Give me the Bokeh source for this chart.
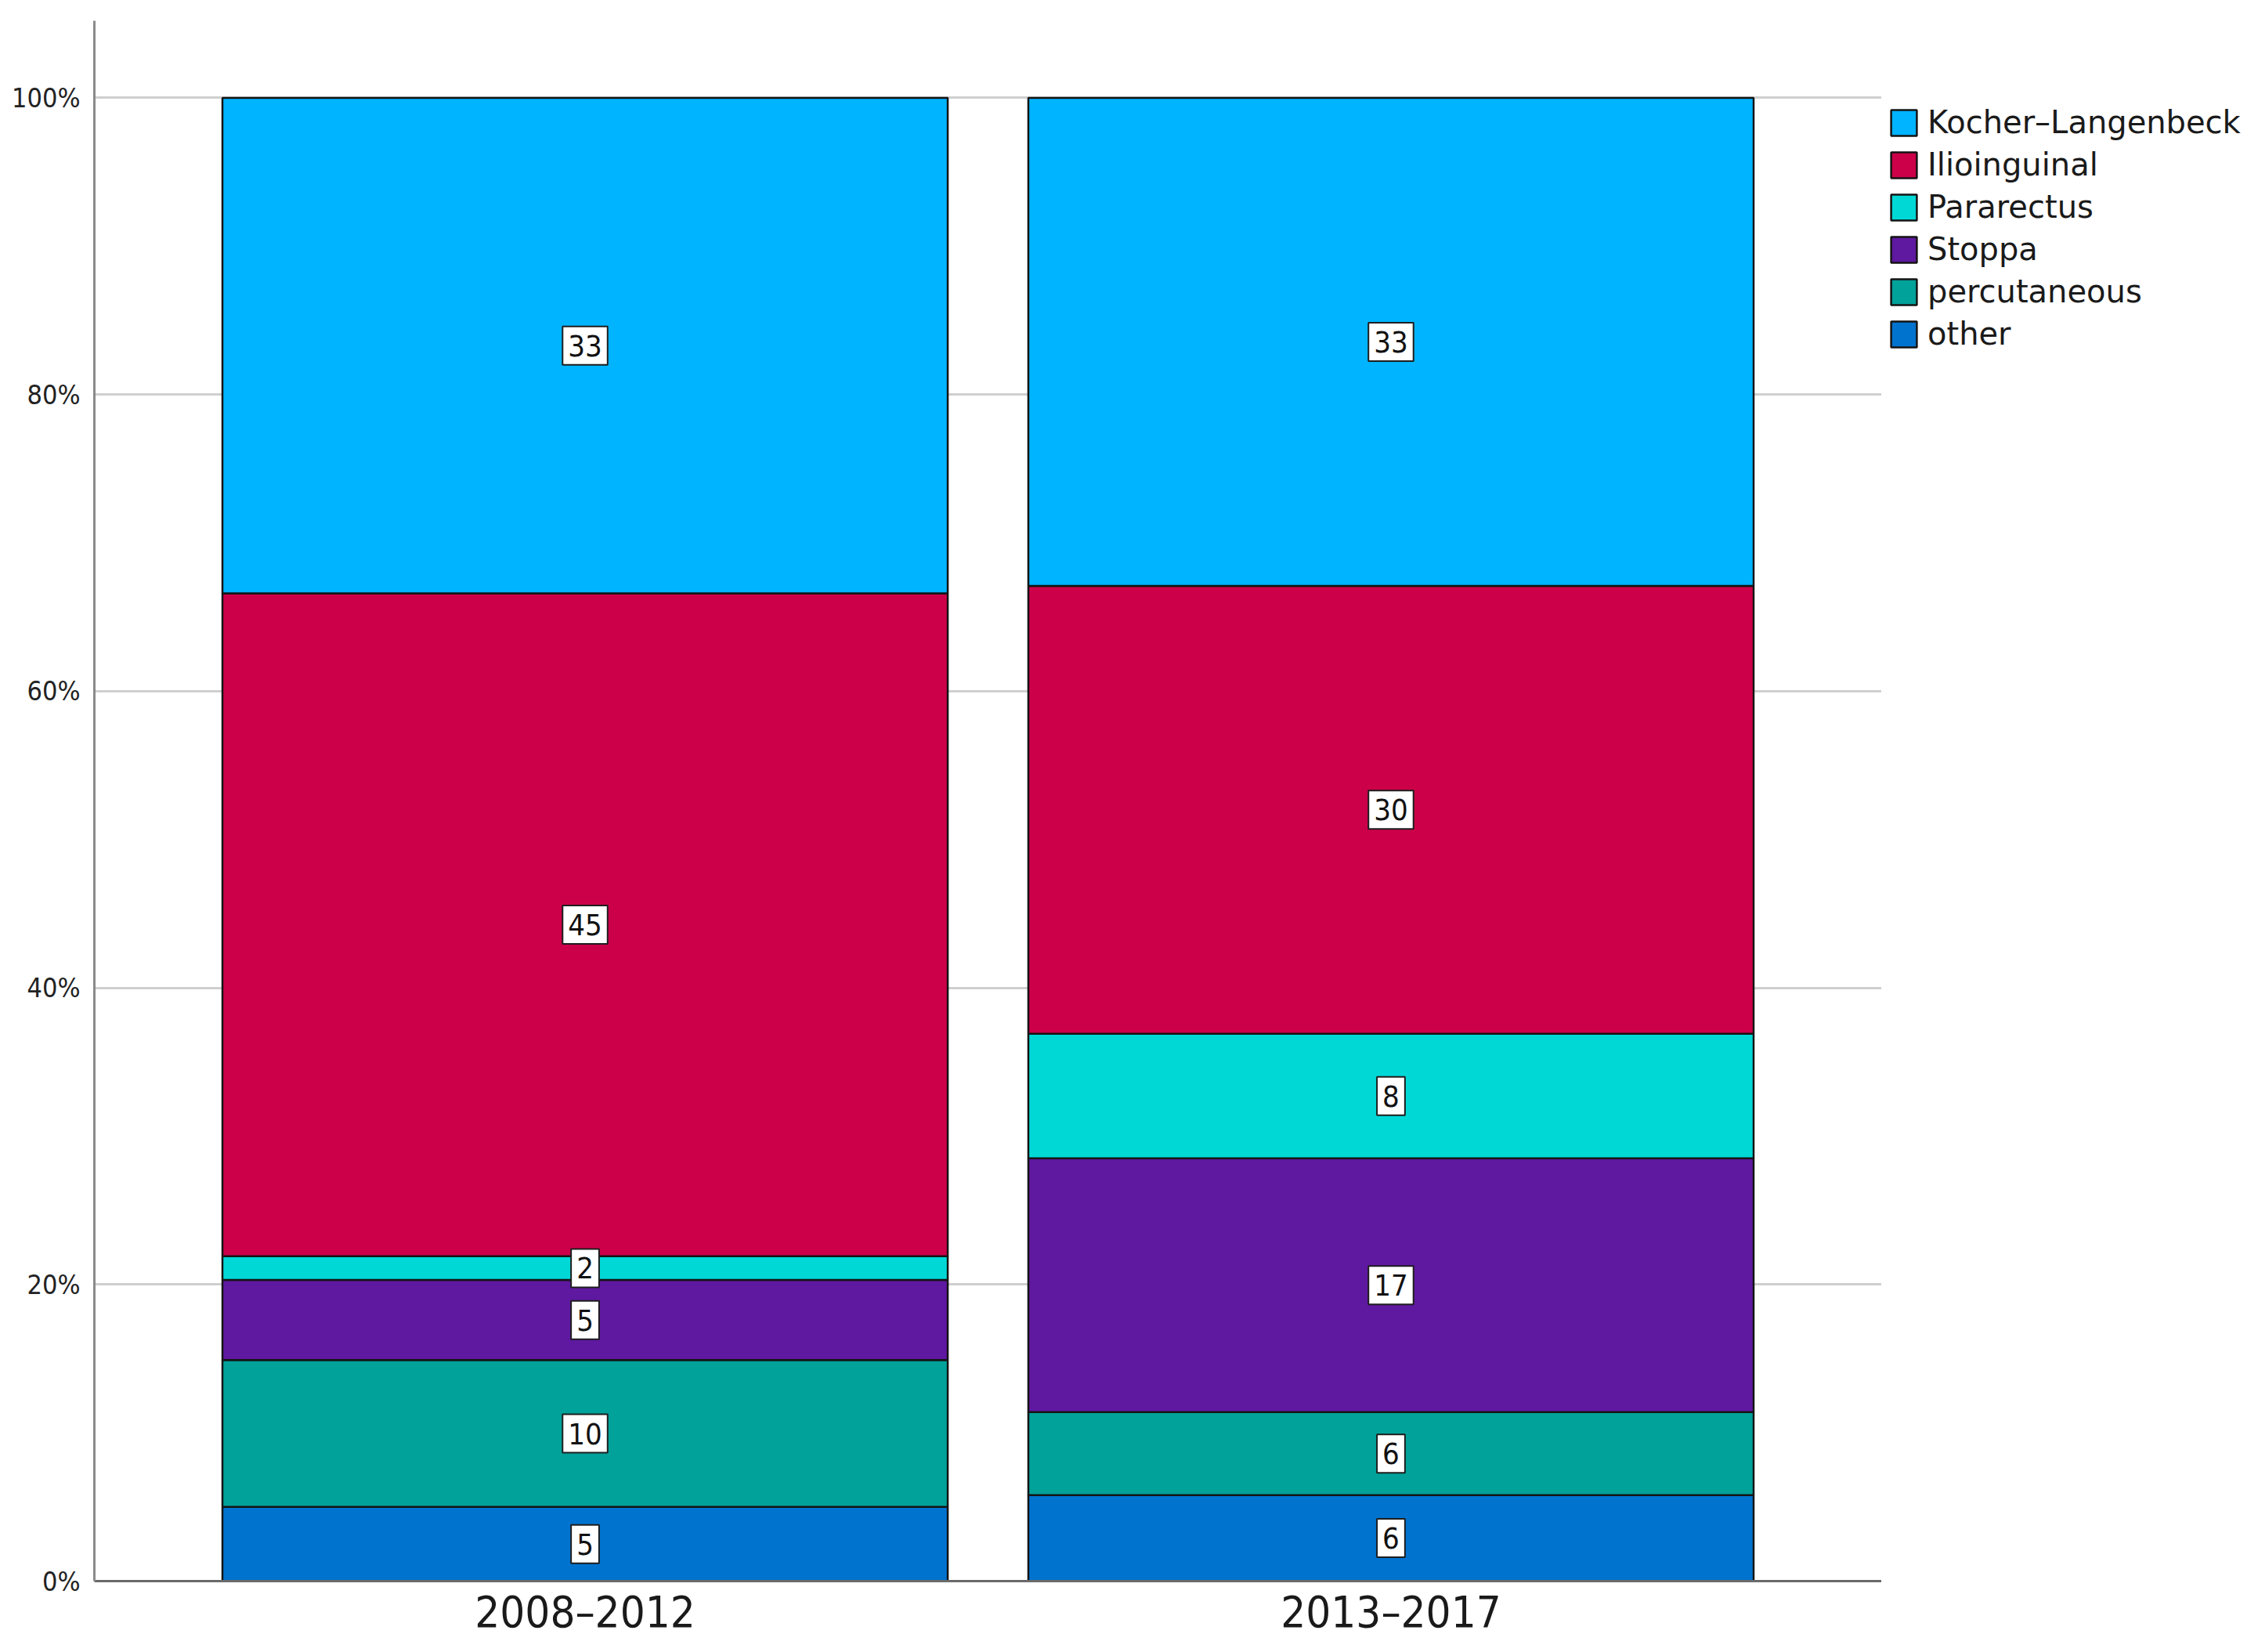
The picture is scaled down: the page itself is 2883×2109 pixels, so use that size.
from bokeh.plotting import figure
from bokeh.layouts import row
from bokeh.models import (ColumnDataSource, FactorRange, Range1d, FixedTicker,
                          PrintfTickFormatter, Legend, LegendItem)
from bokeh.core.properties import value
from bokeh.embed import file_html
from bokeh.resources import INLINE

# ---- data (percent of approaches per period) ----
periods = ["2008–2012", "2013–2017"]
approaches = ["other", "percutaneous", "Stoppa", "Pararectus", "Ilioinguinal", "Kocher–Langenbeck"]
other = [5.0, 5.8]
percutaneous = [9.9, 5.6]
stoppa = [5.4, 17.1]
pararectus = [1.6, 8.4]
ilioinguinal = [44.7, 30.2]
kocher_langenbeck = [33.4, 32.9]
colors = ["#0073CF", "#00A29A", "#5F18A0", "#00D8D6", "#CC0048", "#00B4FF"]
y_ticks = [0, 20, 40, 60, 80, 100]

series = [other, percutaneous, stoppa, pararectus, ilioinguinal, kocher_langenbeck]
data = dict(period=periods)
for name, vals in zip(approaches, series):
    data[name] = vals
source = ColumnDataSource(data)

H = 2093
p = figure(width=2402, height=H,
           x_range=FactorRange(factors=periods, range_padding=0.1089,
                               range_padding_units="absolute"),
           y_range=Range1d(0, 105.2),
           output_backend="svg", toolbar_location=None,
           min_border_left=120, min_border_right=0,
           min_border_top=26, min_border_bottom=75)

renderers = p.vbar_stack(approaches, x="period", width=0.9, color=colors,
                         source=source, line_color="#141414", line_width=2.5)

# value labels centred in each segment
lx, ly, lt = [], [], []
for i, per in enumerate(periods):
    base = 0.0
    for vals in series:
        lx.append(per)
        ly.append(base + vals[i] / 2.0)
        lt.append(str(int(round(vals[i]))))
        base += vals[i]
lab_src = ColumnDataSource(dict(x=lx, y=ly, text=lt))
p.text(x="x", y="y", text="text", source=lab_src,
       text_align="center", text_baseline="middle",
       text_font_size="38px", text_font=value("DejaVu Sans Condensed"),
       text_color="#111111",
       background_fill_color="white", border_line_color="#1e1e1e",
       border_line_width=2, padding=(7, 11))

# axes
p.yaxis.ticker = FixedTicker(ticks=y_ticks)
p.yaxis.formatter = PrintfTickFormatter(format="%d%%")
p.yaxis.major_label_text_font = "DejaVu Sans Condensed"
p.yaxis.major_label_text_font_size = "34px"
p.yaxis.major_label_text_color = "#222222"
p.yaxis.major_tick_line_color = None
p.yaxis.minor_tick_line_color = None
p.yaxis.major_label_standoff = 12
p.yaxis.axis_line_color = "#8a8a8a"
p.yaxis.axis_line_width = 3

p.xaxis.major_label_text_font = "DejaVu Sans Condensed"
p.xaxis.major_label_text_font_size = "56px"
p.xaxis.major_label_text_color = "#1a1a1a"
p.xaxis.major_tick_line_color = None
p.xaxis.minor_tick_line_color = None
p.xaxis.major_label_standoff = 0
p.xaxis.axis_line_color = "#6a6a6a"
p.xaxis.axis_line_width = 3

p.xgrid.grid_line_color = None
p.ygrid.grid_line_color = "#cfcfcf"
p.ygrid.grid_line_width = 3
p.outline_line_color = None
p.background_fill_color = "white"

# legend panel (separate figure to the right of the chart)
lf = figure(width=465, height=H,
            x_range=FactorRange(factors=periods), y_range=Range1d(0, 105.2),
            output_backend="svg", toolbar_location=None,
            x_axis_location=None, y_axis_location=None,
            min_border=0, min_border_left=0, min_border_right=0,
            min_border_top=0, min_border_bottom=0)
lf.grid.visible = False
lf.outline_line_color = None
lrs = lf.vbar_stack(approaches, x="period", width=0.9, color=colors,
                    source=source, line_color="#141414", line_width=2.5,
                    visible=False)

items = [LegendItem(label=name, renderers=[r])
         for name, r in zip(approaches[::-1], lrs[::-1])]
legend = Legend(items=items, location=(8, 1569),
                glyph_width=41, glyph_height=41, label_standoff=10,
                label_text_font="DejaVu Sans", label_text_font_size="40px",
                label_text_color="#1a1a1a", spacing=8, padding=0, margin=0,
                border_line_color=None, background_fill_alpha=0,
                inactive_fill_alpha=0)
lf.add_layout(legend)

layout = row(p, lf, spacing=0)
open("out.html", "w").write(file_html(layout, INLINE))
